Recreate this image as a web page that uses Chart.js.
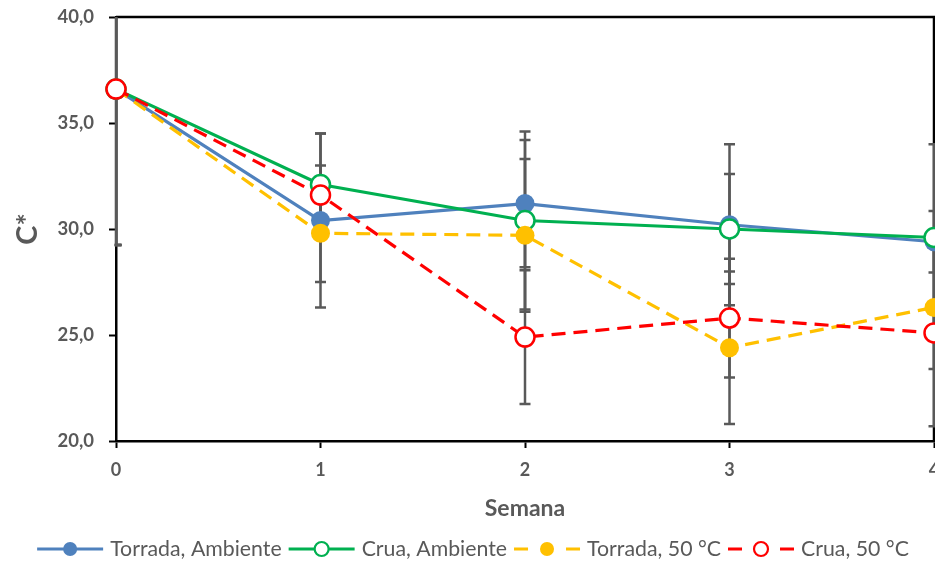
<!DOCTYPE html>
<html>
<head>
<meta charset="utf-8">
<script src="https://cdn.jsdelivr.net/npm/chart.js@4.4.0/dist/chart.umd.min.js"></script>
<style>
  html, body { margin: 0; padding: 0; background: #fff; overflow: hidden; }
  #wrap { width: 935px; height: 563px; overflow: hidden; }
  #c { display: block; }
</style>
</head>
<body>
<div id="wrap"><canvas id="c" width="946" height="563"></canvas></div>
<script>
// Weeks of storage and C* chroma values (means and standard deviations)
const weeks = [0, 1, 2, 3, 4];
const cTicks = [20, 25, 30, 35, 40];
const seriesNames = ['Torrada, Ambiente', 'Crua, Ambiente', 'Torrada, 50 °C', 'Crua, 50 °C'];

const torradaAmbiente = [36.6, 30.4, 31.2, 30.2, 29.4];
const cruaAmbiente    = [36.6, 32.1, 30.4, 30.0, 29.6];
const torrada50       = [36.6, 29.8, 29.7, 24.4, 26.3];
const crua50          = [36.6, 31.6, 24.9, 25.8, 25.1];

const torradaAmbienteSd = [7.35, 4.1, 3.0, 3.8, 1.45];
const cruaAmbienteSd    = [7.35, 2.4, 4.2, 2.6, 4.4];
const torrada50Sd       = [7.35, 2.3, 3.6, 3.6, 2.9];
const crua50Sd          = [7.35, 1.4, 3.15, 2.8, 4.4];

const TEXT = '#595959';
const FONT = 'Lato';
Chart.defaults.font.family = FONT;
Chart.defaults.color = TEXT;

function points(vals) { return weeks.map((w, i) => ({ x: w, y: vals[i] })); }

function series(label, vals, sd, color, filled, dashed, order) {
  return {
    label, data: points(vals), errors: sd, order,
    borderColor: color, backgroundColor: filled ? color : '#ffffff',
    borderWidth: 3.2, borderDash: dashed ? [14, 8] : [], borderCapStyle: 'butt',
    pointRadius: 9.5, pointHoverRadius: 9.5,
    pointBorderWidth: filled ? 0 : 2.5,
    pointBorderColor: color, pointBackgroundColor: filled ? color : '#ffffff',
    tension: 0, clip: false, fill: false
  };
}

// Black frame on top and right of the plotting area
const frame = {
  id: 'frame',
  beforeDatasetsDraw(chart) {
    const { ctx, chartArea: a } = chart;
    ctx.save();
    ctx.strokeStyle = '#000';
    ctx.lineWidth = 2.5;
    ctx.beginPath();
    ctx.moveTo(a.left, a.top); ctx.lineTo(a.right, a.top); ctx.lineTo(a.right, a.bottom);
    ctx.stroke();
    ctx.restore();
  }
};

// Vertical standard-deviation bars with caps
const errorBars = {
  id: 'errorBars',
  beforeDatasetsDraw(chart) {
    const { ctx, chartArea: a, scales: { x, y } } = chart;
    ctx.save();
    ctx.beginPath();
    ctx.rect(a.left - 1.3, a.top, a.right - a.left + 8, a.bottom - a.top);
    ctx.clip();
    ctx.strokeStyle = '#595959';
    ctx.lineWidth = 2.5;
    chart.data.datasets.forEach(ds => {
      ds.data.forEach((p, i) => {
        const e = ds.errors[i];
        const px = x.getPixelForValue(p.x);
        const top = y.getPixelForValue(p.y + e);
        const bot = y.getPixelForValue(p.y - e);
        ctx.beginPath();
        ctx.moveTo(px, top); ctx.lineTo(px, bot);
        ctx.moveTo(px - 5.5, top); ctx.lineTo(px + 5.5, top);
        ctx.moveTo(px - 5.5, bot); ctx.lineTo(px + 5.5, bot);
        ctx.stroke();
      });
    });
    ctx.restore();
  }
};

// Legend: line sample with marker in the middle, then the series name
const lineLegend = {
  id: 'lineLegend',
  afterDraw(chart) {
    const { ctx } = chart;
    const sampleW = 66, gapText = 7, gapItem = 7, cy = 549, centerX = 473;
    ctx.save();
    ctx.font = `21.3px ${FONT}`;
    ctx.textBaseline = 'middle';
    const items = chart.data.datasets.map(ds => ({ ds, w: ctx.measureText(ds.label).width }));
    let total = 0;
    items.forEach((it, i) => { total += sampleW + gapText + it.w + (i < items.length - 1 ? gapItem : 0); });
    let x = centerX - total / 2;
    items.forEach(({ ds, w }) => {
      ctx.strokeStyle = ds.borderColor;
      ctx.lineWidth = 3.2;
      ctx.setLineDash([]);
      ctx.beginPath();
      if (ds.borderDash.length) {
        ctx.moveTo(x, cy); ctx.lineTo(x + 14, cy);
        ctx.moveTo(x + sampleW - 14, cy); ctx.lineTo(x + sampleW, cy);
      } else {
        ctx.moveTo(x, cy); ctx.lineTo(x + sampleW, cy);
      }
      ctx.stroke();
      const mx = x + sampleW / 2;
      ctx.beginPath();
      ctx.arc(mx, cy, 7, 0, Math.PI * 2);
      ctx.fillStyle = ds.pointBackgroundColor;
      ctx.fill();
      if (ds.pointBorderWidth > 0) {
        ctx.lineWidth = 2.2;
        ctx.strokeStyle = ds.pointBorderColor;
        ctx.stroke();
      }
      ctx.fillStyle = TEXT;
      ctx.textAlign = 'left';
      ctx.fillText(ds.label, x + sampleW + gapText, cy);
      x += sampleW + gapText + w + gapItem;
    });
    ctx.restore();
  }
};

const datasets = [
  series(seriesNames[0], torradaAmbiente, torradaAmbienteSd, '#4F81BD', true, false, 4),
  series(seriesNames[1], cruaAmbiente, cruaAmbienteSd, '#00B050', false, false, 3),
  series(seriesNames[2], torrada50, torrada50Sd, '#FFC000', true, true, 2),
  series(seriesNames[3], crua50, crua50Sd, '#FF0000', false, true, 1)
];

new Chart(document.getElementById('c'), {
  type: 'line',
  data: { datasets },
  plugins: [frame, errorBars, lineLegend],
  options: {
    responsive: false,
    animation: false,
    devicePixelRatio: 1,
    layout: { padding: { top: 17, right: 0, bottom: 37, left: 0 } },
    plugins: { legend: { display: false }, tooltip: { enabled: false } },
    scales: {
      x: {
        type: 'linear', min: weeks[0], max: weeks[weeks.length - 1],
        afterBuildTicks: s => { s.ticks = weeks.map(v => ({ value: v })); },
        afterFit: s => { s.height = 85; s.paddingLeft = 0; s.paddingRight = 0; },
        grid: { drawOnChartArea: false, drawTicks: true, tickLength: 7, tickColor: '#000', tickWidth: 2 },
        border: { display: true, color: '#000', width: 2.5 },
        ticks: { padding: 11, color: TEXT, font: { size: 18, weight: 'bold' }, maxRotation: 0, autoSkip: false },
        title: { display: true, text: 'Semana', color: TEXT, font: { size: 23, weight: 'bold' }, padding: { top: 0, bottom: 4 } }
      },
      y: {
        min: cTicks[0], max: cTicks[cTicks.length - 1],
        afterBuildTicks: s => { s.ticks = cTicks.map(v => ({ value: v })); },
        afterFit: s => { s.width = 116; s.paddingTop = 0; s.paddingBottom = 0; },
        grid: { drawOnChartArea: false, drawTicks: true, tickLength: 7, tickColor: '#000', tickWidth: 2 },
        border: { display: true, color: '#000', width: 2.5 },
        ticks: { padding: 15, color: TEXT, font: { size: 18.5, weight: 'bold' },
                 callback: v => v.toFixed(1).replace('.', ',') },
        title: { display: true, text: 'C*', color: TEXT, font: { size: 29, weight: 'bold' }, padding: { top: 10, bottom: 0 } }
      }
    }
  }
});
</script>
</body>
</html>
